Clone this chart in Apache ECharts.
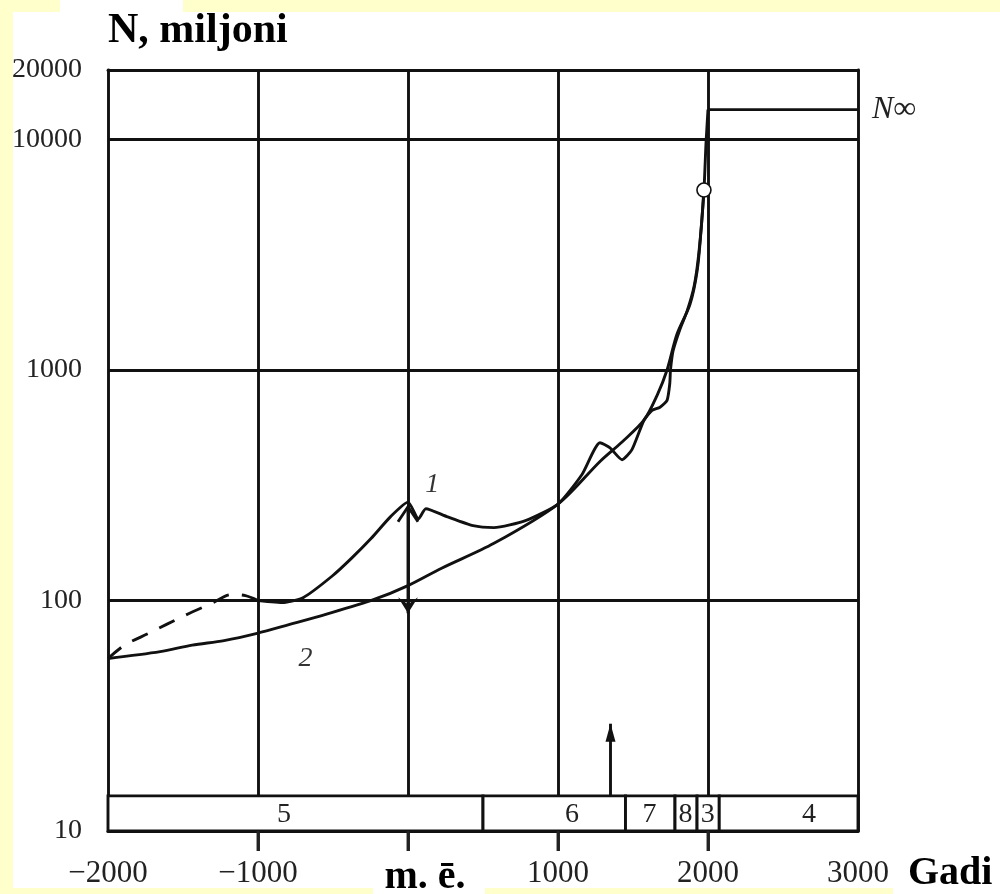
<!DOCTYPE html>
<html>
<head>
<meta charset="utf-8">
<script src="https://cdn.jsdelivr.net/npm/echarts@6/dist/echarts.min.js"></script>
<style>
  html, body { margin:0; padding:0; width:1000px; height:894px; background:#FFFFCC; overflow:hidden; }
  .w { position:absolute; background:#fff; }
  #chart { position:absolute; left:0; top:0; width:1000px; height:894px; }
</style>
</head>
<body>
<div class="w" style="left:13px;top:12px;width:987px;height:876px"></div>
<div class="w" style="left:60px;top:0;width:123px;height:12px"></div>
<div class="w" style="left:373px;top:880px;width:112px;height:14px"></div>
<div class="w" style="left:893px;top:880px;width:107px;height:14px"></div>
<div id="chart"></div>
<script>
// ---- data ----
const xTickValues = [-2000, -1000, 0, 1000, 2000, 3000];
const xTickMarks = [-1000, 0, 1000, 2000];
const yTickValues = [10, 100, 1000, 10000, 20000];

// curve 2 (hyperbolic growth)
const curve2Years  = [-2000,-1652,-1439,-1226,-1006,-794,-548,-226,0,224,573,1000,1280,1427,1573,1660,1727,1793,1880,1927,1953,1973];
const curve2Values = [56,60,64,67,72,78.5,87,101,116,138,177,262,401,487,605,774,1000,1430,1925,2670,3980,6030];

// curve 1, dashed early part
const curve1DashYears  = [-2000,-1890,-1729,-1490,-1297,-1181,-1084,-1000];
const curve1DashValues = [56,64,72,86,98,106,105,100];

// curve 1, solid part
const curve1Years  = [-1000,-826,-697,-503,-374,-245,-116,0,70,119,259,434,573,783,1000,1160,1280,1347,1427,1493,1573,1627,1680,1727,1745,1750,1767,1813,1860,1907,1940,1973,1987,2000];
const curve1Values = [100,98,103,128,153,186,231,267,226,250,231,211,207,222,262,352,483,459,408,451,605,668,689,738,871,1000,1208,1502,1795,2300,3260,6030,9700,13460];

// limit N_inf
const limitYears  = [2000, 3000];
const limitValues = [13460, 13460];

// present point
const presentYear = 1973, presentValue = 6030;

// double arrow at year 0 and arrow near 1350
const dblArrowYear = 0, dblArrowTop = 255, dblArrowBottom = 88;
const upArrowYear = 1350, upArrowBase = 14.2, upArrowTip = 29.2;

// period band
const bandTop = 14.2, bandBottom = 10;
const bandStarts   = [-2000, 500, 1450, 1780, 1927, 2075];
const bandEnds     = [500, 1450, 1780, 1927, 2075, 3000];
const bandLabelAt  = [-826, 1093, 1610, 1850, 1998, 2673];
const bandLabels   = ['5', '6', '7', '8', '3', '4'];

// curve labels
const curveLabelNames  = ['1', '2'];
const curveLabelYears  = [161, -684];
const curveLabelValues = [319, 56];

const zip = (a, b) => a.map((v, i) => [v, b[i]]);
const SERIF = '"Liberation Serif", "DejaVu Serif", serif';
const INK = '#111';
const LW = 2.9;
const TICK_LEN = 20;

const xLabelText = v => v < 0 ? '\u2212' + Math.abs(v) : (v === 0 ? '{me|m. \u0113.}' : String(v));
const frameAxisX = { type: 'value', min: -2000, max: 3000, position: 'top',
  axisLine: { show: true, onZero: false, lineStyle: { color: INK, width: LW } },
  axisTick: { show: false }, axisLabel: { show: false }, splitLine: { show: false } };
const frameAxisY = { type: 'log', logBase: 10, min: 10, max: 20000, position: 'right',
  axisLine: { show: true, onZero: false, lineStyle: { color: INK, width: LW } },
  axisTick: { show: false }, axisLabel: { show: false }, splitLine: { show: false } };

const chart = echarts.init(document.getElementById('chart'), null, {renderer: 'canvas'});
chart.setOption({
  animation: false,
  backgroundColor: 'transparent',
  title: [
    { text: 'N, miljoni', left: 103, top: 5,
      textStyle: { fontFamily: SERIF, fontWeight: 'bold', fontSize: 42, color: '#000' } },
    { text: 'Gadi', left: 903, top: 849,
      textStyle: { fontFamily: SERIF, fontWeight: 'bold', fontSize: 40, color: '#000' } }
  ],
  grid: { left: 108, right: 142, top: 70, bottom: 63, show: false, outerBoundsMode: 'none',
          containLabel: false },
  xAxis: [{
    type: 'value', min: -2000, max: 3000, interval: 1000, position: 'bottom',
    axisLine: { show: true, onZero: false, lineStyle: { color: INK, width: LW } },
    axisTick: { show: true, customValues: xTickMarks, length: TICK_LEN, inside: false,
                lineStyle: { color: '#222', width: LW } },
    splitLine: { show: true, lineStyle: { color: INK, width: LW } },
    axisLabel: {
      customValues: xTickValues,
      margin: 27, fontFamily: SERIF, fontSize: 31, color: '#222',
      formatter: xLabelText,
      rich: { me: { fontFamily: SERIF, fontWeight: 'bold', fontSize: 40, color: '#000',
                    padding: [0, 0, 0, 34] } }
    }
  }, frameAxisX],
  yAxis: [{
    type: 'log', logBase: 10, min: 10, max: 20000, position: 'left',
    axisLine: { show: true, onZero: false, lineStyle: { color: INK, width: LW } },
    axisTick: { show: false },
    splitLine: { show: true, lineStyle: { color: INK, width: LW } },
    axisLabel: { customValues: yTickValues, margin: 26, fontFamily: SERIF, fontSize: 28, color: '#222',
                 formatter: v => String(Math.round(v)) }
  }, frameAxisY],
  series: [
    { name: 'curve2', type: 'line', data: zip(curve2Years, curve2Values), smooth: 0.3,
      showSymbol: false, lineStyle: { color: INK, width: LW }, z: 3 },
    { name: 'curve1dash', type: 'line', data: zip(curve1DashYears, curve1DashValues), smooth: 0.3,
      showSymbol: false, lineStyle: { color: INK, width: LW, type: [17, 13] }, z: 3 },
    { name: 'curve1', type: 'line', data: zip(curve1Years, curve1Values), smooth: 0.2,
      showSymbol: false, lineStyle: { color: INK, width: LW }, z: 3 },
    { name: 'limit', type: 'line', data: zip(limitYears, limitValues),
      showSymbol: false, lineStyle: { color: INK, width: LW }, z: 3,
      endLabel: { show: true, distance: 14, formatter: '{n|N}{i|\u221E}',
                  rich: { n: { fontFamily: SERIF, fontStyle: 'italic', fontSize: 32, color: '#222' },
                          i: { fontFamily: SERIF, fontSize: 32, color: '#222' } } }
    },
    { name: 'arrows', type: 'custom', z: 8,
      data: [[dblArrowYear, dblArrowTop, dblArrowBottom, 0], [upArrowYear, upArrowBase, upArrowTip, 1]],
      encode: { x: 0, y: [1, 2] },
      renderItem: (params, api) => {
        const kind = api.value(3);
        const a = api.coord([api.value(0), api.value(1)]);
        const b = api.coord([api.value(0), api.value(2)]);
        const ch = [];
        ch.push({ type: 'line', shape: { x1: a[0], y1: a[1], x2: b[0], y2: b[1] },
                  style: { stroke: INK, lineWidth: LW } });
        if (kind === 0) {
          ch.push({ type: 'polyline', shape: { points: [[a[0] - 10, a[1] + 15], [a[0], a[1]], [a[0] + 10, a[1] + 15]] },
                    style: { stroke: INK, lineWidth: LW, fill: null } });
          ch.push({ type: 'polygon', shape: { points: [[b[0] - 10, b[1] - 16], [b[0], b[1] - 9], [b[0] + 10, b[1] - 16], [b[0], b[1]]] },
                    style: { fill: INK } });
        } else {
          ch.push({ type: 'polygon', shape: { points: [[b[0] - 5, b[1] + 18], [b[0], b[1]], [b[0] + 5, b[1] + 18]] },
                    style: { fill: INK } });
        }
        return { type: 'group', children: ch };
      }
    },
    { name: 'present', type: 'scatter', data: [[presentYear, presentValue]], symbol: 'circle',
      symbolSize: 14, itemStyle: { color: '#fff', opacity: 1, borderColor: INK, borderWidth: 1.6 }, z: 9 },
    { name: 'band', type: 'custom', z: 5,
      data: bandStarts.map((s, i) => [s, bandEnds[i], bandLabelAt[i], i]),
      encode: { x: [0, 1] },
      renderItem: (params, api) => {
        const i = api.value(3);
        const p0 = api.coord([api.value(0), bandTop]);
        const p1 = api.coord([api.value(1), bandBottom]);
        const pl = api.coord([api.value(2), Math.sqrt(bandTop * bandBottom)]);
        return { type: 'group', children: [
          { type: 'rect', shape: { x: p0[0], y: p0[1], width: p1[0] - p0[0], height: p1[1] - p0[1] },
            style: { fill: '#fff', stroke: INK, lineWidth: LW } },
          { type: 'text', style: { x: pl[0], y: pl[1] + 1, text: bandLabels[i], align: 'center',
              verticalAlign: 'middle', fontFamily: SERIF, fontSize: 28, fill: '#222' } }
        ] };
      }
    },
    { name: 'labels', type: 'scatter', symbolSize: 0, clip: false, z: 7,
      data: curveLabelNames.map((n, i) => ({ name: n, value: [curveLabelYears[i], curveLabelValues[i]] })),
      label: { show: true, position: 'inside', formatter: '{b}', fontFamily: SERIF,
               fontStyle: 'italic', fontSize: 28, color: '#000', textBorderWidth: 0 } }
  ]
});

// outward tick marks below the x axis, positioned through the chart's own scale
const tickGraphics = xTickMarks.map(v => {
  const p = chart.convertToPixel({ xAxisIndex: 0, yAxisIndex: 0 }, [v, bandBottom]);
  return { type: 'rect', z: 100, silent: true,
           shape: { x: p[0] - LW / 2, y: p[1], width: LW, height: TICK_LEN },
           style: { fill: '#222' } };
});
chart.setOption({ graphic: { elements: tickGraphics } });
</script>
</body>
</html>
